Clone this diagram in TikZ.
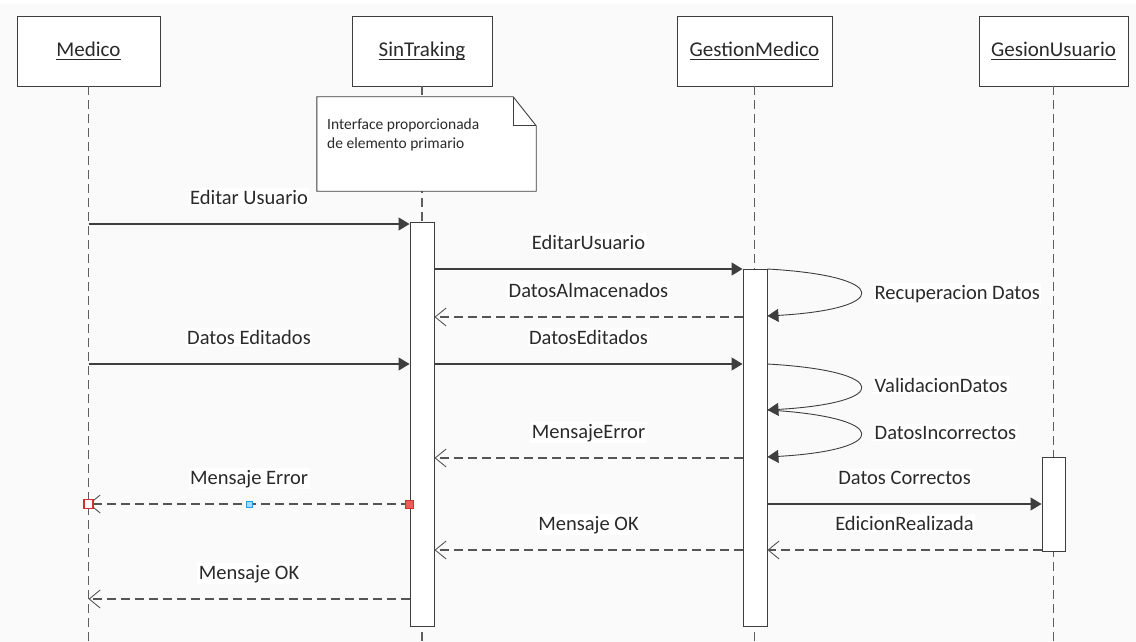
\documentclass[tikz,border=0pt]{standalone}
\usepackage{fontspec}
\setmainfont{Carlito}
\usetikzlibrary{arrows.meta,calc}
\definecolor{bgc}{HTML}{FAFAFA}
\definecolor{lnc}{HTML}{3E3E3E}
\definecolor{dsc}{HTML}{555555}
\definecolor{lfc}{HTML}{5E5E5E}
\definecolor{txc}{HTML}{2A2A2A}
\definecolor{hrf}{HTML}{F25A5A}
\definecolor{hrd}{HTML}{D42E2E}
\definecolor{hbf}{HTML}{A9D8F5}
\definecolor{hbd}{HTML}{2E9BD6}
\newcommand\uln[1]{\setbox0\hbox{#1}\rlap{\rule[-3.2pt]{\wd0}{0.9pt}}\box0}
\begin{document}
\begin{tikzpicture}[x=1pt,y=-1pt,
  head/.style={draw=lnc, line width=0.9pt, fill=white, text=txc, font=\fontsize{21}{25}\selectfont, minimum height=70pt, inner sep=0pt},
  act/.style={draw=lnc, line width=0.9pt, fill=white, inner sep=0pt},
  life/.style={draw=lfc, line width=1.1pt, dash pattern=on 9pt off 5pt},
  msg/.style={draw=lnc, line width=1.1pt, -{Triangle[length=11pt,width=13pt]}},
  ret/.style={draw=dsc, line width=1.1pt, dash pattern=on 9pt off 5pt, -{Straight Barb[length=11pt,width=18pt,line width=0.9pt]}},
  loopm/.style={draw=lnc, line width=0.9pt, -{Triangle[length=11pt,width=13pt]}},
  lbl/.style={midway, anchor=base, yshift=20pt, fill=white, inner sep=1.5pt, text=txc, font=\fontsize{20.5}{24}\selectfont},
  slbl/.style={anchor=base west, fill=white, inner sep=1.5pt, text=txc, font=\fontsize{20.5}{24}\selectfont},
  notetxt/.style={anchor=north west, inner sep=0pt, align=left, text=txc, font=\fontsize{15.5}{19}\selectfont},
  hred/.style={draw=hrd, fill=hrf, line width=0.8pt, minimum size=8pt, inner sep=0pt},
  hblue/.style={draw=hbd, fill=hbf, line width=0.8pt, minimum size=6pt, inner sep=0pt},
  hhol/.style={draw=hrd, fill=white, line width=1.1pt, minimum size=9pt, inner sep=0pt}
]
\fill[white] (0,0) rectangle (1136,642);
\fill[bgc] (0,4) rectangle (1136,642);
\useasboundingbox (0,0) rectangle (1136,642);

\coordinate (bot) at (0,642);
% rows
\coordinate (r1) at (0,224);
\coordinate (r2) at (0,269);
\coordinate (r3) at (0,317);
\coordinate (l1) at (0,316);
\coordinate (r4) at (0,364);
\coordinate (l2) at (0,410);
\coordinate (l3) at (0,457);
\coordinate (r5) at (0,458);
\coordinate (r6) at (0,504);
\coordinate (r7) at (0,550);
\coordinate (r8) at (0,599);

% headers
\node[head, minimum width=143pt] (hM) at (88.5,51) {\uln{Medico}};
\node[head, minimum width=140pt] (hS) at (422,51) {\uln{SinTraking}};
\node[head, minimum width=155pt] (hG) at (754.5,51) {\uln{GestionMedico}};
\node[head, minimum width=149pt] (hU) at (1053.5,51) {\uln{GesionUsuario}};

% lifelines
\draw[life] (hM.south) -- (hM.south |- bot);
\draw[life] (hS.south) -- (hS.south |- bot);
\draw[life] (hG.south) -- (hG.south |- bot);
\draw[life] (hU.south) -- (hU.south |- bot);

% note
\node[inner sep=0pt, minimum width=219pt, minimum height=94pt] (note) at (426.5,144) {};
\draw[draw=lnc, line width=0.9pt, fill=white]
  (note.north west) -- ([xshift=-23pt]note.north east) -- ([yshift=-29pt]note.north east)
  -- (note.south east) -- (note.south west) -- cycle;
\draw[draw=lnc, line width=0.9pt]
  ([xshift=-23pt]note.north east) |- ([yshift=-29pt]note.north east);
\node[notetxt] (notet) at (327,119) {Interface proporcionada\\de elemento primario};

% activations
\node[act, minimum width=24pt, minimum height=404pt] (actS) at (422,424) {};
\node[act, minimum width=24pt, minimum height=357pt] (actG) at (755,447.5) {};
\node[act, minimum width=23pt, minimum height=94pt] (actU) at (1053.5,504) {};

% messages
\draw[msg] (hM.south |- r1) -- node[lbl]{Editar Usuario} (actS.west |- r1);
\draw[msg] (actS.east |- r2) -- node[lbl]{EditarUsuario} (actG.west |- r2);
\draw[ret] (actG.west |- r3) -- node[lbl]{DatosAlmacenados} (actS.east |- r3);
\draw[loopm] (actG.east |- r2) .. controls +(124,7) and +(124,-7) .. (actG.east |- l1);
\node[slbl] (s1) at (873,299) {Recuperacion Datos};
\draw[msg] (hM.south |- r4) -- node[lbl]{Datos Editados} (actS.west |- r4);
\draw[msg] (actS.east |- r4) -- node[lbl]{DatosEditados} (actG.west |- r4);
\draw[loopm] (actG.east |- r4) .. controls +(124,7) and +(124,-7) .. (actG.east |- l2);
\node[slbl] (s2) at (873,392) {ValidacionDatos};
\draw[loopm] (actG.east |- l2) .. controls +(124,7) and +(124,-7) .. (actG.east |- l3);
\node[slbl] (s3) at (873,439) {DatosIncorrectos};
\draw[ret] (actG.west |- r5) -- node[lbl]{MensajeError} (actS.east |- r5);
\draw[ret] (actS.west |- r6) -- node[lbl]{Mensaje Error} (hM.south |- r6);
\draw[msg] (actG.east |- r6) -- node[lbl]{Datos Correctos} (actU.west |- r6);
\draw[ret] (actG.west |- r7) -- node[lbl]{Mensaje OK} (actS.east |- r7);
\draw[ret] (actU.west |- r7) -- node[lbl]{EdicionRealizada} (actG.east |- r7);
\draw[ret] (actS.west |- r8) -- node[lbl]{Mensaje OK} (hM.south |- r8);

% selection handles
\node[hred] (h1) at (actS.west |- r6) {};
\node[hblue] (h2) at ($(actS.west |- r6)!0.5!(hM.south |- r6)$) {};
\node[hhol] (h3) at (hM.south |- r6) {};
\end{tikzpicture}
\end{document}
